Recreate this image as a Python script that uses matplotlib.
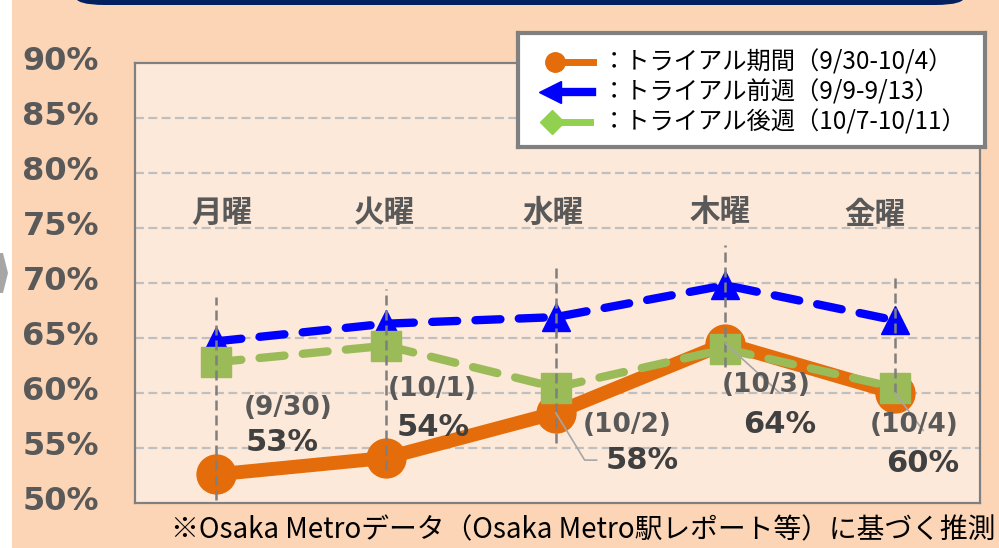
import numpy as np
import matplotlib
matplotlib.use("Agg")
import matplotlib.pyplot as plt
from matplotlib.patches import FancyBboxPatch, Polygon
import matplotlib.transforms as mtransforms

plt.rcParams['font.family'] = ['Noto Sans CJK JP', 'DejaVu Sans']

# data
days = ["月曜", "火曜", "水曜", "木曜", "金曜"]
trial = [52.6, 54.1, 58.2, 64.5, 60.0]        # trial period 9/30-10/4
before = [64.7, 66.3, 66.9, 69.8, 66.6]       # week before 9/9-9/13
after = [62.8, 64.3, 60.5, 64.0, 60.5]        # week after 10/7-10/11
dates = ["(9/30)", "(10/1)", "(10/2)", "(10/3)", "(10/4)"]
pct_labels = ["53%", "54%", "58%", "64%", "60%"]
yticks = [50, 55, 60, 65, 70, 75, 80, 85, 90]
legend_labels = ["：トライアル期間（9/30-10/4）",
                 "：トライアル前週（9/9-9/13）",
                 "：トライアル後週（10/7-10/11）"]
footnote = "※Osaka Metroデータ（Osaka Metro駅レポート等）に基づく推測"

# label placement (data coords)
day_x = [0.03, 0.99, 1.98, 2.97, 3.88]
day_y = [76.4, 76.4, 76.4, 76.5, 76.2]
date_xy = [(0.42, 58.6), (1.27, 60.4), (2.42, 57.1), (3.24, 60.7), (4.11, 57.1)]
pct_xy = [(0.39, 55.5), (1.28, 56.9), (2.51, 53.9), (3.32, 57.1), (4.16, 53.6)]
vline_top = [68.7, 69.5, 71.4, 73.5, 70.9]
vline_bot = [50.3, 53.0, 55.5, 62.4, 60.0]

bg = "#FBD5B5"
fig = plt.figure(figsize=(9.99, 5.48), dpi=100, facecolor=bg)

# white strip + grey chevron on the left, navy box at the top
fig.patches.append(plt.Rectangle((0, 0), 12/999, 1, transform=fig.transFigure,
                                 facecolor="white", edgecolor="none"))
chev = [(0, 1-253/548), (3/999, 1-253/548), (8/999, 1-273/548),
        (3/999, 1-293/548), (0, 1-293/548)]
fig.patches.append(Polygon(chev, closed=True, transform=fig.transFigure,
                           facecolor="#A6A6A6", edgecolor="none"))
fig.patches.append(FancyBboxPatch((75/999, 1-5/548), 890/999, 40/548,
                                  boxstyle="round,pad=0,rounding_size=0.03",
                                  transform=fig.transFigure, mutation_aspect=548/999,
                                  facecolor="#002060", edgecolor="none"))

ax = fig.add_axes([135/999, 1-503/548, 845/999, 440/548])
ax.set_facecolor("#FDE9D9")
ax.set_xlim(-0.48, 4.5)
ax.set_ylim(50, 90)
for s in ax.spines.values():
    s.set_color("#808080")
    s.set_linewidth(1.6)

ax.set_yticks(yticks)
ax.set_yticklabels([f"{v}%" for v in yticks], family="DejaVu Sans",
                   fontweight="bold", fontsize=23, color="#595959")
ax.tick_params(axis="y", length=0, pad=26)
ax.set_xticks([])
off = mtransforms.ScaledTranslation(0, 5/100, fig.dpi_scale_trans)
for lbl in ax.get_yticklabels():
    lbl.set_transform(lbl.get_transform() + off)
for v in yticks[1:-1]:
    ax.axhline(v, color="#BFBFBF", lw=1.6, dashes=(4, 2), zorder=1)

x = np.arange(len(days))
ax.plot(x, trial, color="#E46C0A", lw=10, marker="o", markersize=28,
        solid_capstyle="round", zorder=3)
ax.plot(x, before, color="#0000FF", lw=6, ls=(0, (3, 2.2)), dash_capstyle="round",
        marker="^", markersize=20, zorder=4)
ax.plot(x, after, color="#9BBB59", lw=6, ls=(0, (3, 2.2)), dash_capstyle="round",
        marker="s", markersize=21, zorder=5)

for i in range(len(days)):
    ax.plot([x[i], x[i]], [vline_bot[i], vline_top[i]], color="#7F7F7F", lw=1.8,
            dashes=(4, 2), zorder=6)
    ax.text(day_x[i], day_y[i], days[i], ha="center", va="center", fontsize=22,
            fontweight="bold", color="#595959")
    ax.text(*date_xy[i], dates[i], ha="center", va="center", family="DejaVu Sans",
            fontweight="bold", fontsize=19, color="#595959", zorder=7)
    ax.text(*pct_xy[i], pct_labels[i], ha="center", va="center", family="DejaVu Sans",
            fontweight="bold", fontsize=22, color="#404040", zorder=7)

# leader lines
ax.plot([2, 2.17, 2.24], [trial[2], 53.9, 53.9], color="#A6A6A6", lw=1.2, zorder=6)
ax.plot([3, 3.32], [trial[3], 60.0], color="#A6A6A6", lw=1.2, zorder=6)
ax.plot([4, 4.165], [trial[4], 56.6], color="#A6A6A6", lw=1.2, zorder=6)

# legend box
lg = fig.add_axes([518/999, 1-147/548, 467/999, 114/548])
lg.set_facecolor("white")
lg.set_xlim(0, 1)
lg.set_ylim(0, 1)
lg.set_xticks([])
lg.set_yticks([])
for s in lg.spines.values():
    s.set_color("#808080")
    s.set_linewidth(3)
rows = [0.745, 0.48, 0.215]
lg.plot([0.079, 0.16], [rows[0]] * 2, color="#E46C0A", lw=5)
lg.plot([0.079], [rows[0]], "o", color="#E46C0A", markersize=14)
lg.plot([0.09, 0.158], [rows[1]] * 2, color="#0000FF", lw=6)
lg.plot([0.068], [rows[1]], "<", color="#0000FF", markersize=16)
lg.plot([0.072, 0.155], [rows[2]] * 2, color="#92D050", lw=5)
lg.plot([0.072], [rows[2]], "D", color="#92D050", markersize=12)
for r, t in zip(rows, legend_labels):
    lg.text(0.18, r, t, ha="left", va="center", fontsize=17.5, color="black")

fig.text(995/999, 1-530/548, footnote, ha="right", va="center", fontsize=20,
         color="black")

fig.savefig("out.png", dpi=100, facecolor=bg)
